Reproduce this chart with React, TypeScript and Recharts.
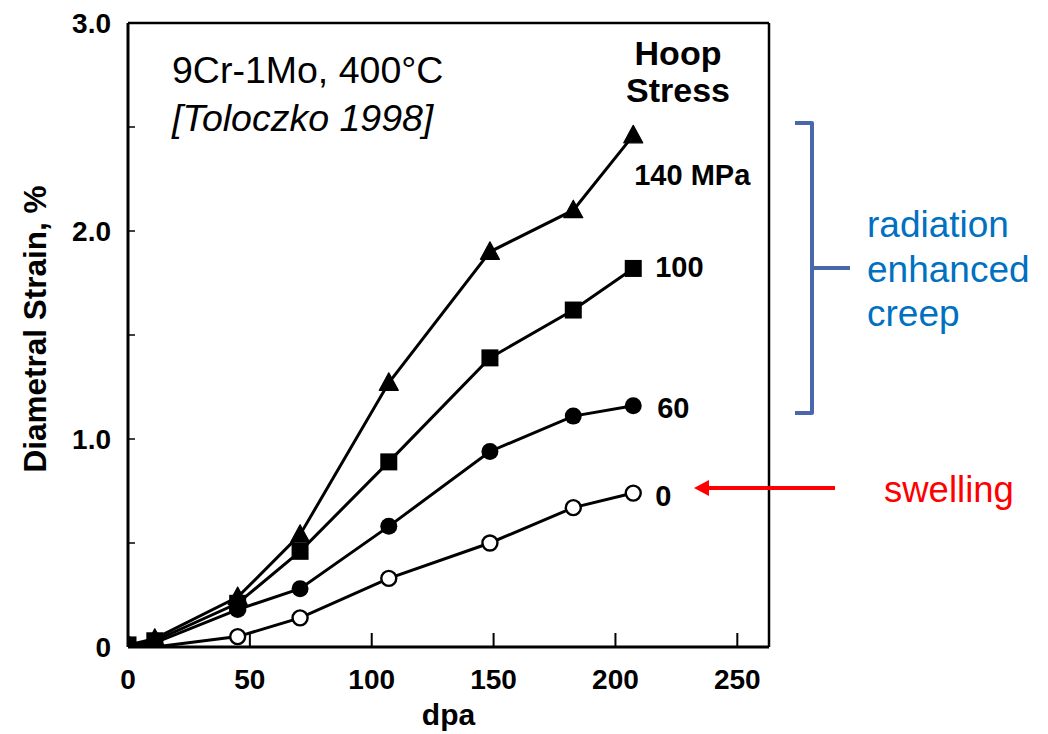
import React from 'react';
import { LineChart, Line, XAxis, YAxis, ReferenceLine } from 'recharts';

// ---- data ----
const dpa = [0, 11, 45, 70.6, 107, 148.5, 182.7, 207.3];
const strain140 = [0.01, 0.04, 0.24, 0.54, 1.27, 1.9, 2.1, 2.46];
const strain100 = [0.01, 0.03, 0.21, 0.46, 0.89, 1.39, 1.62, 1.82];
const strain60 = [0.01, 0.02, 0.18, 0.28, 0.58, 0.94, 1.11, 1.16];
const strain0 = [0.01, 0.0, 0.05, 0.14, 0.33, 0.5, 0.67, 0.74];

const xTicks = [0, 50, 100, 150, 200, 250];
const yTicks = [0, 0.5, 1, 1.5, 2, 2.5, 3];
const yTickLabels: Record<string, string> = { '0': '0', '1': '1.0', '2': '2.0', '3': '3.0' };

const seriesLabels = ['140 MPa', '100', '60', '0'];

const data = dpa.map((d, i) => ({
  dpa: d,
  s140: strain140[i],
  s100: strain100[i],
  s60: strain60[i],
  s0: strain0[i],
}));

const FONT = '"Liberation Sans", Arial, Helvetica, sans-serif';

type Shape = 'triangle' | 'square' | 'circle' | 'open';

// drawn bottom-up so filled markers sit on top near the origin
const series: { key: string; shape: Shape; label: string; dx: number; dy: number }[] = [
  { key: 's0', shape: 'open', label: seriesLabels[3], dx: 22, dy: 13 },
  { key: 's60', shape: 'circle', label: seriesLabels[2], dx: 24, dy: 12 },
  { key: 's100', shape: 'square', label: seriesLabels[1], dx: 22, dy: 9 },
  { key: 's140', shape: 'triangle', label: seriesLabels[0], dx: 1, dy: 50 },
];

const makeDot = (shape: Shape, key: string) => (props: any) => {
  const { cx, cy, index } = props;
  const k = `${key}-${index}`;
  if (cx == null || cy == null) return <g key={k} />;
  if (shape === 'triangle') {
    return (
      <polygon
        key={k}
        points={`${cx},${cy - 10} ${cx - 9.5},${cy + 7.5} ${cx + 9.5},${cy + 7.5}`}
        fill="#000"
        stroke="#000"
        strokeWidth={1.2}
        strokeLinejoin="round"
      />
    );
  }
  if (shape === 'square') {
    return <rect key={k} x={cx - 8.5} y={cy - 8.5} width={17} height={17} fill="#000" />;
  }
  if (shape === 'circle') {
    return <circle key={k} cx={cx} cy={cy} r={8.5} fill="#000" />;
  }
  return <circle key={k} cx={cx} cy={cy} r={7.5} fill="#fff" stroke="#000" strokeWidth={2.4} />;
};

const makeEndLabel = (label: string, dx: number, dy: number, key: string) => (props: any) => {
  const { x, y, index } = props;
  if (index !== dpa.length - 1) return <g key={`${key}-lbl-${index}`} />;
  return (
    <text
      key={`${key}-lbl-${index}`}
      x={x + dx}
      y={y + dy}
      fontFamily={FONT}
      fontWeight="bold"
      fontSize={29}
      fill="#000"
      textAnchor="start"
    >
      {label}
    </text>
  );
};

const XTick = (props: any) => {
  const { x, y, payload } = props;
  return (
    <g>
      {payload.value !== 0 && (
        <line x1={x} x2={x} y1={y} y2={y - 14} stroke="#000" strokeWidth={2} />
      )}
      <text
        x={x}
        y={y + 32}
        dy="0.35em"
        textAnchor="middle"
        fontFamily={FONT}
        fontWeight="bold"
        fontSize={28}
        fill="#000"
      >
        {payload.value}
      </text>
    </g>
  );
};

const YTick = (props: any) => {
  const { x, y, payload } = props;
  const lbl = yTickLabels[String(payload.value)];
  return (
    <g>
      {payload.value !== 0 && payload.value !== 3 && (
        <line x1={x} x2={x + 7} y1={y} y2={y} stroke="#000" strokeWidth={1.5} />
      )}
      {lbl && (
        <text
          x={x - 17}
          y={y}
          dy="0.35em"
          textAnchor="end"
          fontFamily={FONT}
          fontWeight="bold"
          fontSize={28}
          fill="#000"
        >
          {lbl}
        </text>
      )}
    </g>
  );
};

const YLabel = (props: any) => {
  const vb = props.viewBox || { x: 0, y: 0, width: 0, height: 0 };
  const cx = vb.x + 35;
  const cy = vb.y + vb.height / 2 - 6;
  return (
    <text
      x={cx}
      y={cy}
      dy="0.35em"
      transform={`rotate(-90 ${cx} ${cy})`}
      textAnchor="middle"
      fontFamily={FONT}
      fontWeight="bold"
      fontSize={31.5}
      fill="#000"
    >
      Diametral Strain, %
    </text>
  );
};

const Overlay = () => (
  <svg
    width={1048}
    height={734}
    style={{ position: 'absolute', left: 0, top: 0, pointerEvents: 'none' }}
  >
    {/* in-plot titles */}
    <text x={172} y={83} fontFamily={FONT} fontSize={37.5} fill="#000">
      9Cr-1Mo, 400°C
    </text>
    <text x={172} y={131} fontFamily={FONT} fontSize={37.5} fontStyle="italic" fill="#000">
      [Toloczko 1998]
    </text>
    <text x={678} y={65} textAnchor="middle" fontFamily={FONT} fontWeight="bold" fontSize={34} fill="#000">
      Hoop
    </text>
    <text x={678} y={102} textAnchor="middle" fontFamily={FONT} fontWeight="bold" fontSize={34} fill="#000">
      Stress
    </text>

    {/* bracket */}
    <path
      d="M795,123 L812,123 L812,413 L795,413 M812,268 L850,268"
      fill="none"
      stroke="#4A66AC"
      strokeWidth={4}
      strokeLinejoin="round"
    />
    <text x={867} y={237} fontFamily={FONT} fontSize={37} fill="#0070C0">
      radiation
    </text>
    <text x={867} y={282} fontFamily={FONT} fontSize={37} fill="#0070C0">
      enhanced
    </text>
    <text x={867} y={326} fontFamily={FONT} fontSize={37} fill="#0070C0">
      creep
    </text>

    {/* swelling arrow */}
    <line x1={835} y1={488} x2={705} y2={488} stroke="#FF0000" strokeWidth={4} />
    <polygon points="694,488 709,480 709,496" fill="#FF0000" />
    <text x={884} y={502} fontFamily={FONT} fontSize={36.5} fill="#FF0000">
      swelling
    </text>
  </svg>
);

export default function App() {
  return (
    <div style={{ position: 'absolute', left: 0, top: 0, width: 1048, height: 734, background: '#fff' }}>
      <LineChart
        width={1048}
        height={734}
        data={data}
        margin={{ top: 23, right: 279, bottom: 7, left: 0 }}
      >
        <XAxis
          dataKey="dpa"
          type="number"
          domain={[0, 263]}
          ticks={xTicks}
          interval={0}
          allowDataOverflow
          height={80}
          tickLine={false}
          tickSize={0}
          tickMargin={0}
          axisLine={{ stroke: '#000', strokeWidth: 3 }}
          tick={<XTick />}
          label={{
            value: 'dpa',
            position: 'insideBottom',
            offset: 2,
            style: { fontFamily: FONT, fontWeight: 'bold', fontSize: 30, fill: '#000' },
          }}
        />
        <YAxis
          type="number"
          domain={[0, 3]}
          ticks={yTicks}
          interval={0}
          allowDataOverflow
          width={128}
          tickLine={false}
          tickSize={0}
          tickMargin={0}
          axisLine={{ stroke: '#000', strokeWidth: 3 }}
          tick={<YTick />}
          label={{ content: <YLabel /> }}
        />
        <ReferenceLine y={3} stroke="#000" strokeWidth={2.5} />
        <ReferenceLine x={263} stroke="#000" strokeWidth={2.5} />
        {series.map((s) => (
          <Line
            key={s.key}
            dataKey={s.key}
            type="linear"
            stroke="#000"
            strokeWidth={3}
            dot={makeDot(s.shape, s.key)}
            activeDot={false}
            isAnimationActive={false}
            label={makeEndLabel(s.label, s.dx, s.dy, s.key)}
          />
        ))}
      </LineChart>
      <Overlay />
    </div>
  );
}
